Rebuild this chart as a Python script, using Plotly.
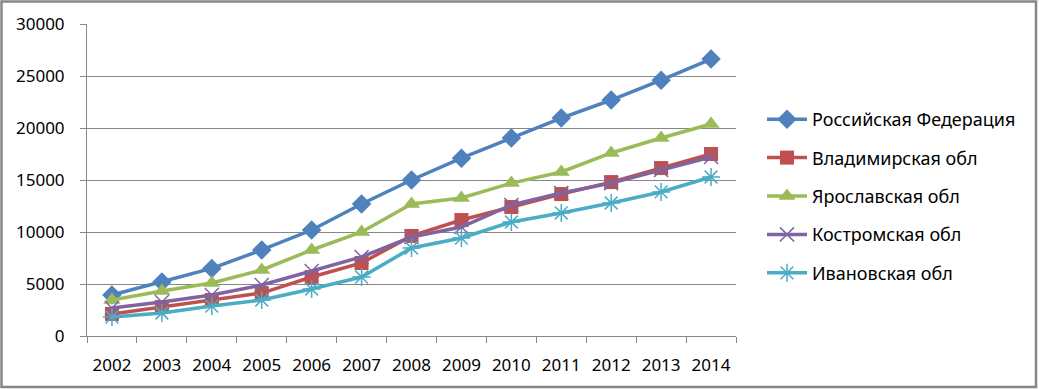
import plotly.graph_objects as go

years = ["2002", "2003", "2004", "2005", "2006", "2007", "2008",
         "2009", "2010", "2011", "2012", "2013", "2014"]

rf = [3940, 5190, 6500, 8270, 10190, 12690, 15000, 17100, 19040, 20960, 22690, 24600, 26630]
vladimir = [2120, 2790, 3460, 4130, 5670, 7020, 9620, 11150, 12400, 13650, 14800, 16150, 17500]
yaroslavl = [3460, 4330, 5100, 6350, 8270, 10000, 12690, 13270, 14700, 15770, 17600, 19040, 20380]
kostroma = [2690, 3270, 3940, 4900, 6250, 7600, 9520, 10480, 12600, 13750, 14700, 15960, 17210]
ivanovo = [1830, 2210, 2880, 3460, 4520, 5670, 8460, 9420, 10960, 11830, 12790, 13850, 15290]

names = ["Российская Федерация", "Владимирская обл", "Ярославская обл",
         "Костромская обл", "Ивановская обл"]
series = [rf, vladimir, yaroslavl, kostroma, ivanovo]
colors = ["#4F81BD", "#C0504D", "#9BBB59", "#8064A2", "#4BACC6"]
symbols = ["diamond", "square", "triangle-up", "x-thin-open", "asterisk-open"]
sizes = [15, 14, 15, 14, 15]

FONT = "Noto Sans"
W, H = 1039, 389
ml, mr, mt, mb = 87, 303, 24, 53

fig = go.Figure()
for i, (nm, vals) in enumerate(zip(names, series)):
    fig.add_trace(go.Scatter(
        x=years, y=vals, name=nm, mode="lines+markers",
        legendgroup=str(i),
        line=dict(color=colors[i], width=3.5),
        marker=dict(symbol=symbols[i], size=sizes[i], color=colors[i],
                    line=dict(color=colors[i], width=1.5 if i >= 3 else 0)),
    ))

pw = W - ml - mr
ph = H - mt - mb
fig.add_shape(type="rect", xref="paper", yref="paper",
              x0=(1.5 - ml) / pw, x1=(1036 - ml) / pw,
              y0=(H - mb - 387) / ph, y1=(H - mb - 1.5) / ph,
              line=dict(color="#868686", width=2.5), layer="above")

fig.update_layout(
    width=W, height=H,
    margin=dict(l=ml, r=mr, t=mt, b=mb),
    paper_bgcolor="white", plot_bgcolor="white",
    font=dict(family=FONT, size=17, color="black"),
    showlegend=True,
    legend=dict(
        xref="container", yref="container",
        x=762 / W, y=1 - 101 / H, xanchor="left", yanchor="top",
        font=dict(family=FONT, size=18, color="black"),
        itemwidth=40, tracegroupgap=12, bgcolor="rgba(0,0,0,0)",
    ),
    xaxis=dict(
        type="category", showgrid=False, showline=True, linecolor="#868686",
        linewidth=1, ticks="outside", tickson="boundaries", ticklen=6,
        tickcolor="#868686", tickfont=dict(family=FONT, size=17),
        tickangle=0, ticklabelstandoff=14, range=[-0.5, 12.5], fixedrange=True,
    ),
    yaxis=dict(
        range=[0, 30000], dtick=5000, tickformat="d", showgrid=True,
        gridcolor="#868686", gridwidth=1, showline=True, linecolor="#868686",
        linewidth=1, ticks="outside", ticklen=6, tickcolor="#868686",
        tickfont=dict(family=FONT, size=17), ticklabelstandoff=12,
        zeroline=False, fixedrange=True,
    ),
)

fig.write_html("out.html",
               config={"displayModeBar": False},
               post_script="document.body.style.margin='0';"
                           "document.body.style.overflow='hidden';")
